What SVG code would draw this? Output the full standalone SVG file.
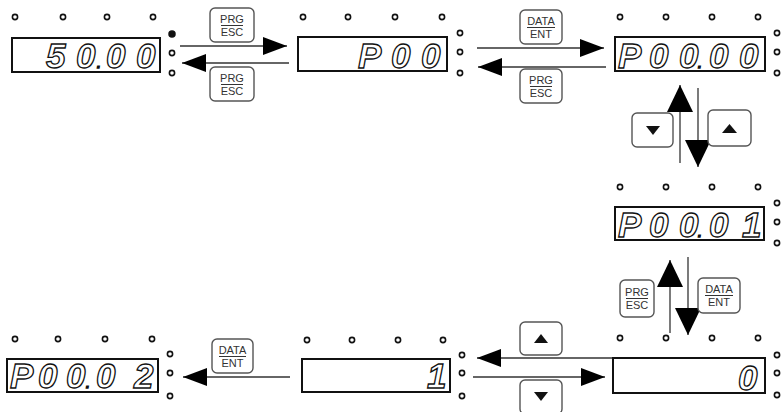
<svg xmlns="http://www.w3.org/2000/svg" width="782" height="412" viewBox="0 0 782 412">
<style>
.disp{fill:#fff;stroke:#111;stroke-width:2}
.dot{fill:#fff;stroke:#111;stroke-width:1.6}
.dotf{fill:#111;stroke:#111;stroke-width:1.5}
.seg{font-family:"Liberation Sans",Arial,sans-serif;font-weight:bold;font-style:italic;font-size:35px;fill:#fff;stroke:#111;stroke-width:1.3}
.dp{font-size:12px;fill:#111}
.key{fill:#fff;stroke:#555;stroke-width:1.4}
.kt{font-family:"Liberation Sans",Arial,sans-serif;font-size:11px;fill:#333;text-anchor:middle}
.ul{stroke:#333;stroke-width:1}
.tri{fill:#111}
.ln{stroke:#333;stroke-width:1.3;fill:none}
.h{marker-end:url(#ah)}
.v{marker-end:url(#av)}
</style>
<defs>
<marker id="ah" markerUnits="userSpaceOnUse" markerWidth="24" markerHeight="18" refX="24" refY="9" orient="auto"><path d="M0,0 L24,9 L0,18 z" fill="#000"/></marker>
<marker id="av" markerUnits="userSpaceOnUse" markerWidth="27" markerHeight="26" refX="27" refY="13" orient="auto"><path d="M0,0 L27,13 L0,26 z" fill="#000"/></marker>
</defs>
<rect width="782" height="412" fill="#fff"/>

<g id="display1">
<circle class="dot" cx="15" cy="17" r="2.6"/><circle class="dot" cx="63" cy="17" r="2.6"/><circle class="dot" cx="107" cy="17" r="2.6"/><circle class="dot" cx="153" cy="17" r="2.6"/>
<circle class="dotf" cx="172" cy="34" r="3"/><circle class="dot" cx="172" cy="53" r="2.6"/><circle class="dot" cx="172" cy="73" r="2.6"/>
<rect class="disp" x="12" y="38" width="148" height="34"/>
<text class="seg" x="46 76" y="68">50<tspan class="dp" x="97">.</tspan><tspan x="106 136">00</tspan></text>
</g>

<g id="display2">
<circle class="dot" cx="303" cy="17" r="2.6"/><circle class="dot" cx="348" cy="17" r="2.6"/><circle class="dot" cx="395" cy="17" r="2.6"/><circle class="dot" cx="442" cy="17" r="2.6"/>
<circle class="dot" cx="460" cy="33" r="2.6"/><circle class="dot" cx="460" cy="52" r="2.6"/><circle class="dot" cx="460" cy="73" r="2.6"/>
<rect class="disp" x="298" y="37" width="149" height="34"/>
<text class="seg" x="358 391 421" y="68">P00</text>
</g>

<g id="display3">
<circle class="dot" cx="620" cy="17" r="2.6"/><circle class="dot" cx="666" cy="17" r="2.6"/><circle class="dot" cx="712" cy="17" r="2.6"/><circle class="dot" cx="758" cy="17" r="2.6"/>
<circle class="dot" cx="777" cy="33" r="2.6"/><circle class="dot" cx="777" cy="52" r="2.6"/><circle class="dot" cx="777" cy="73" r="2.6"/>
<rect class="disp" x="615" y="37" width="150" height="34"/>
<text class="seg" x="618 649 679" y="68">P00<tspan class="dp" x="698">.</tspan><tspan x="709 739">00</tspan></text>
</g>

<g id="display4">
<circle class="dot" cx="620" cy="187" r="2.6"/><circle class="dot" cx="666" cy="187" r="2.6"/><circle class="dot" cx="712" cy="187" r="2.6"/><circle class="dot" cx="758" cy="187" r="2.6"/>
<circle class="dot" cx="777" cy="203" r="2.6"/><circle class="dot" cx="777" cy="222" r="2.6"/><circle class="dot" cx="777" cy="243" r="2.6"/>
<rect class="disp" x="615" y="207" width="149" height="33"/>
<text class="seg" x="618 649 679" y="237">P00<tspan class="dp" x="698">.</tspan><tspan x="709 742">01</tspan></text>
</g>

<g id="display5">
<circle class="dot" cx="620" cy="338" r="2.6"/><circle class="dot" cx="666" cy="338" r="2.6"/><circle class="dot" cx="712" cy="338" r="2.6"/><circle class="dot" cx="758" cy="338" r="2.6"/>
<circle class="dot" cx="777" cy="355" r="2.6"/><circle class="dot" cx="777" cy="373" r="2.6"/><circle class="dot" cx="777" cy="395" r="2.6"/>
<rect class="disp" x="613" y="358" width="152" height="35"/>
<text class="seg" x="738" y="390">0</text>
</g>

<g id="display6">
<circle class="dot" cx="307" cy="340" r="2.6"/><circle class="dot" cx="352" cy="340" r="2.6"/><circle class="dot" cx="398" cy="340" r="2.6"/><circle class="dot" cx="443" cy="340" r="2.6"/>
<circle class="dot" cx="462" cy="355" r="2.6"/><circle class="dot" cx="462" cy="373" r="2.6"/><circle class="dot" cx="462" cy="396" r="2.6"/>
<rect class="disp" x="302" y="359" width="148" height="33"/>
<text class="seg" x="427" y="388">1</text>
</g>

<g id="display7">
<circle class="dot" cx="15" cy="339" r="2.6"/><circle class="dot" cx="58" cy="339" r="2.6"/><circle class="dot" cx="105" cy="339" r="2.6"/><circle class="dot" cx="152" cy="339" r="2.6"/>
<circle class="dot" cx="170" cy="354" r="2.6"/><circle class="dot" cx="170" cy="373" r="2.6"/><circle class="dot" cx="170" cy="396" r="2.6"/>
<rect class="disp" x="7" y="359" width="151" height="33"/>
<text class="seg" x="10 38 66" y="388">P00<tspan class="dp" x="86">.</tspan><tspan x="96 134">02</tspan></text>
</g>

<g id="connectors">
<line class="ln h" x1="180" y1="46" x2="287" y2="46"/>
<line class="ln h" x1="289" y1="63" x2="182" y2="63"/>
<line class="ln h" x1="477" y1="48" x2="604" y2="48"/>
<line class="ln h" x1="606" y1="67" x2="478" y2="67"/>
<line class="ln v" x1="680" y1="163" x2="680" y2="85"/>
<line class="ln v" x1="698" y1="88" x2="698" y2="167"/>
<line class="ln v" x1="670" y1="333" x2="670" y2="260"/>
<line class="ln v" x1="688" y1="257" x2="688" y2="335"/>
<line class="ln h" x1="612" y1="358" x2="477" y2="358"/>
<line class="ln h" x1="473" y1="377" x2="605" y2="377"/>
<line class="ln h" x1="290" y1="377" x2="183" y2="377"/>
</g>

<g id="key-prg1">
<rect class="key" x="210" y="8" width="44" height="34" rx="5"/>
<text class="kt" x="232" y="23">PRG</text><line class="ul" x1="221" y1="25.5" x2="243" y2="25.5"/><text class="kt" x="232" y="36">ESC</text>
</g>
<g id="key-prg2">
<rect class="key" x="210" y="67" width="44" height="34" rx="5"/>
<text class="kt" x="232" y="82">PRG</text><line class="ul" x1="221" y1="84.5" x2="243" y2="84.5"/><text class="kt" x="232" y="95">ESC</text>
</g>
<g id="key-data1">
<rect class="key" x="520" y="10" width="42" height="34" rx="5"/>
<text class="kt" x="541" y="25">DATA</text><line class="ul" x1="527" y1="27.5" x2="555" y2="27.5"/><text class="kt" x="541" y="38">ENT</text>
</g>
<g id="key-prg3">
<rect class="key" x="520" y="69" width="42" height="34" rx="5"/>
<text class="kt" x="541" y="84">PRG</text><line class="ul" x1="530" y1="86.5" x2="552" y2="86.5"/><text class="kt" x="541" y="97">ESC</text>
</g>
<g id="key-down1">
<rect class="key" x="632" y="113" width="41" height="34" rx="5"/>
<polygon class="tri" points="646,126 660,126 653,135"/>
</g>
<g id="key-up1">
<rect class="key" x="708" y="110" width="43" height="36" rx="5"/>
<polygon class="tri" points="722,133 737,133 729.5,124"/>
</g>
<g id="key-prg4">
<rect class="key" x="620" y="280" width="34" height="37" rx="5"/>
<text class="kt" x="637" y="296">PRG</text><line class="ul" x1="626" y1="298.5" x2="648" y2="298.5"/><text class="kt" x="637" y="309">ESC</text>
</g>
<g id="key-data2">
<rect class="key" x="698" y="278" width="42" height="35" rx="5"/>
<text class="kt" x="719" y="293">DATA</text><line class="ul" x1="705" y1="295.5" x2="733" y2="295.5"/><text class="kt" x="719" y="306">ENT</text>
</g>
<g id="key-up2">
<rect class="key" x="520" y="322" width="42" height="33" rx="5"/>
<polygon class="tri" points="534,343 548,343 541,334"/>
</g>
<g id="key-down2">
<rect class="key" x="520" y="380" width="42" height="34" rx="5"/>
<polygon class="tri" points="534,392 548,392 541,401"/>
</g>
<g id="key-data3">
<rect class="key" x="212" y="339" width="41" height="34" rx="5"/>
<text class="kt" x="232.5" y="354">DATA</text><line class="ul" x1="219" y1="356.5" x2="246" y2="356.5"/><text class="kt" x="232.5" y="367">ENT</text>
</g>
</svg>
